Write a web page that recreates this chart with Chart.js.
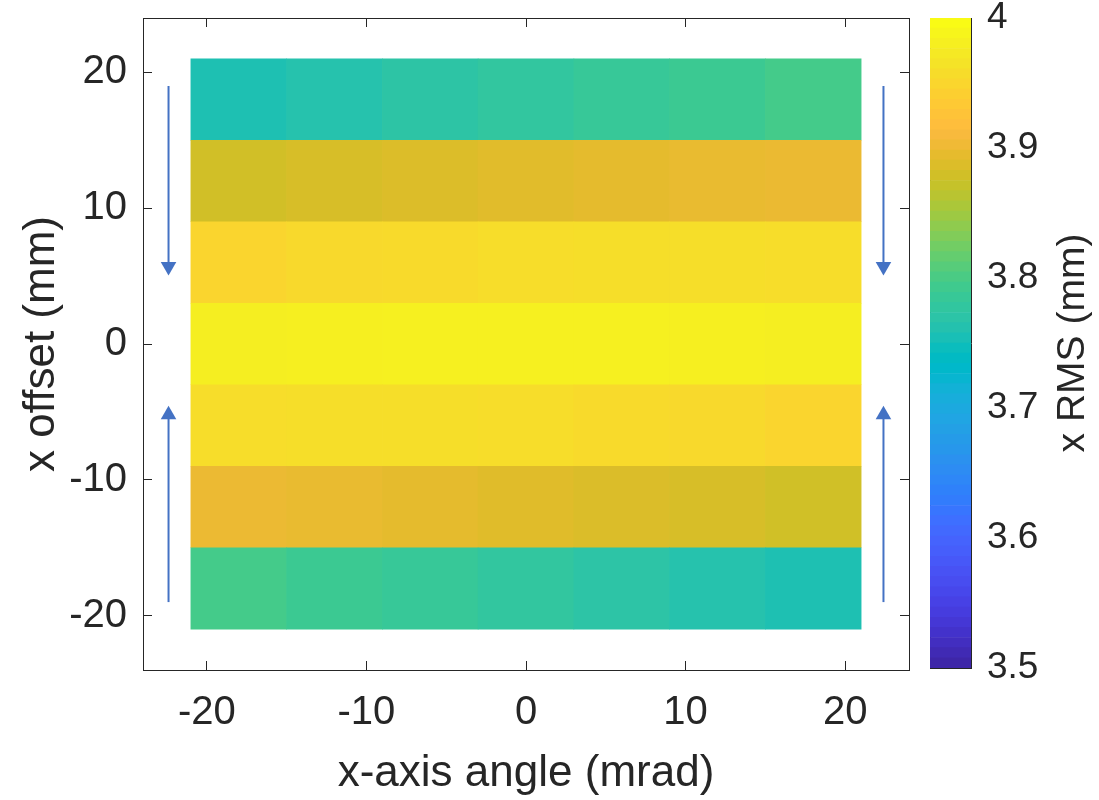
<!DOCTYPE html>
<html>
<head>
<meta charset="utf-8">
<script src="https://cdn.jsdelivr.net/npm/chart.js@4.4.1/dist/chart.umd.min.js"></script>
<style>
  body { margin: 0; background: #fff; }
  #wrap { position: relative; width: 1099px; height: 800px; }
  #heat { position: absolute; left: 0; top: 0; }
  #cbar { position: absolute; left: 925px; top: 0; }
</style>
</head>
<body>
<div id="wrap">
  <canvas id="heat" width="925" height="800"></canvas>
  <canvas id="cbar" width="174" height="800"></canvas>
</div>
<script>
// cell centres
const xAngles = [-18, -12, -6, 0, 6, 12, 18];      // mrad
const yOffsets = [18, 12, 6, 0, -6, -12, -18];     // mm

// x RMS (mm), one list per offset row, left to right
const rmsAt18 = [3.758, 3.764, 3.772, 3.778, 3.785, 3.790, 3.797];
const rmsAt12 = [3.881, 3.885, 3.889, 3.893, 3.896, 3.899, 3.901];
const rmsAt6 = [3.951, 3.956, 3.958, 3.961, 3.963, 3.962, 3.961];
const rmsAt0 = [3.983, 3.984, 3.985, 3.985, 3.985, 3.984, 3.983];
const rmsAtM6 = [3.961, 3.962, 3.963, 3.961, 3.958, 3.956, 3.951];
const rmsAtM12 = [3.902, 3.899, 3.896, 3.892, 3.888, 3.885, 3.880];
const rmsAtM18 = [3.797, 3.790, 3.785, 3.778, 3.771, 3.764, 3.758];
const rmsRows = [rmsAt18, rmsAt12, rmsAt6, rmsAt0, rmsAtM6, rmsAtM12, rmsAtM18];

const colorLimits = [3.5, 4];
const cbTicks = [3.5, 3.6, 3.7, 3.8, 3.9, 4];

// scan direction arrows
const arrowX = [-22.4, 22.4];
const downArrowY = [19, 5.7];
const upArrowY = [-19, -5.2];

const FONT = '"Liberation Sans", Arial, Helvetica, sans-serif';
const INK = '#262626';
const ARROW = '#4472C4';

// matlab parula(64)
const parula = [
  [0.2422,0.1504,0.6603],[0.2504,0.1650,0.7076],[0.2578,0.1818,0.7511],[0.2647,0.1978,0.7952],
  [0.2706,0.2147,0.8364],[0.2751,0.2342,0.8710],[0.2783,0.2559,0.8991],[0.2803,0.2782,0.9221],
  [0.2813,0.3006,0.9414],[0.2810,0.3228,0.9579],[0.2795,0.3447,0.9717],[0.2760,0.3667,0.9829],
  [0.2699,0.3892,0.9906],[0.2602,0.4123,0.9952],[0.2440,0.4358,0.9988],[0.2206,0.4603,0.9973],
  [0.1963,0.4847,0.9892],[0.1834,0.5074,0.9798],[0.1786,0.5289,0.9682],[0.1764,0.5499,0.9520],
  [0.1687,0.5703,0.9359],[0.1540,0.5902,0.9218],[0.1460,0.6091,0.9079],[0.1380,0.6276,0.8973],
  [0.1248,0.6459,0.8883],[0.1113,0.6635,0.8763],[0.0952,0.6798,0.8598],[0.0689,0.6948,0.8394],
  [0.0297,0.7082,0.8163],[0.0036,0.7203,0.7917],[0.0067,0.7312,0.7660],[0.0433,0.7411,0.7394],
  [0.0964,0.7500,0.7120],[0.1408,0.7584,0.6842],[0.1717,0.7670,0.6554],[0.1938,0.7758,0.6251],
  [0.2161,0.7843,0.5923],[0.2470,0.7918,0.5567],[0.2906,0.7973,0.5188],[0.3406,0.8008,0.4789],
  [0.3909,0.8029,0.4354],[0.4456,0.8024,0.3909],[0.5044,0.7993,0.3480],[0.5616,0.7942,0.3045],
  [0.6174,0.7876,0.2612],[0.6720,0.7793,0.2227],[0.7242,0.7698,0.1910],[0.7738,0.7598,0.1646],
  [0.8203,0.7498,0.1535],[0.8634,0.7406,0.1596],[0.9035,0.7330,0.1774],[0.9393,0.7288,0.2100],
  [0.9728,0.7298,0.2394],[0.9956,0.7434,0.2371],[0.9970,0.7659,0.2199],[0.9952,0.7893,0.2028],
  [0.9892,0.8136,0.1885],[0.9786,0.8386,0.1766],[0.9676,0.8639,0.1643],[0.9610,0.8890,0.1537],
  [0.9597,0.9135,0.1423],[0.9628,0.9373,0.1265],[0.9691,0.9606,0.1064],[0.9769,0.9839,0.0805]
];

function rgb(c) {
  return 'rgb(' + c.map(v => Math.round(v * 255)).join(',') + ')';
}

function colorFor(v) {
  let t = (v - colorLimits[0]) / (colorLimits[1] - colorLimits[0]);
  t = Math.max(0, Math.min(1, t)) * (parula.length - 1);
  const i = Math.min(Math.floor(t), parula.length - 2);
  const f = t - i;
  const a = parula[i], b = parula[i + 1];
  return rgb([0, 1, 2].map(k => a[k] + (b[k] - a[k]) * f));
}

// heatmap cells as horizontal floating bars
const half = (xAngles[1] - xAngles[0]) / 2;
const cells = [];
const cellColors = [];
rmsRows.forEach((row, r) => {
  row.forEach((v, c) => {
    cells.push({ x: [xAngles[c] - half, xAngles[c] + half], y: yOffsets[r] });
    cellColors.push(colorFor(v));
  });
});

function arrow(x, ys, tipRot) {
  return {
    type: 'line',
    data: ys.map(y => ({ x: x, y: y })),
    borderColor: ARROW,
    borderWidth: 2,
    pointStyle: 'triangle',
    pointRadius: [0, 9],
    pointRotation: [0, tipRot],
    pointBackgroundColor: ARROW,
    pointBorderWidth: 0,
    order: 0
  };
}

// fixed box sizes, no extra room for overhanging labels
function fixSize(s, size) {
  if (s.isHorizontal()) s.height = size; else s.width = size;
  s.paddingTop = 0; s.paddingBottom = 0; s.paddingLeft = 0; s.paddingRight = 0;
}

const tickFont = { family: FONT, size: 40 };
const titleFont = { family: FONT, size: 44, lineHeight: 1 };

function boxAxis(position, axis, size) {
  return {
    type: 'linear', axis: axis, position: position, min: -24, max: 24, offset: false,
    ticks: { display: false, stepSize: 10, includeBounds: false },
    grid: { drawOnChartArea: false, offset: false, tickLength: -9, color: INK },
    border: { color: INK },
    afterFit(s) { fixSize(s, size); }
  };
}

new Chart(document.getElementById('heat'), {
  type: 'bar',
  data: {
    datasets: [
      arrow(arrowX[0], downArrowY, 180),
      arrow(arrowX[1], downArrowY, 180),
      arrow(arrowX[0], upArrowY, 0),
      arrow(arrowX[1], upArrowY, 0),
      {
        type: 'bar',
        indexAxis: 'y',
        data: cells,
        backgroundColor: cellColors,
        borderWidth: 0,
        barPercentage: 1,
        categoryPercentage: 1,
        order: 1
      }
    ]
  },
  options: {
    responsive: false,
    devicePixelRatio: 1,
    animation: false,
    events: [],
    layout: { padding: 0 },
    plugins: { legend: { display: false }, tooltip: { enabled: false } },
    scales: {
      x: {
        type: 'linear', position: 'bottom', min: -24, max: 24, offset: false,
        ticks: { stepSize: 10, includeBounds: false, font: tickFont, color: INK, padding: 28, maxRotation: 0 },
        grid: { drawOnChartArea: false, offset: false, tickLength: -9, color: INK },
        border: { color: INK },
        title: { display: true, text: 'x-axis angle (mrad)', font: titleFont, color: INK, padding: { top: 0, bottom: 4 } },
        afterFit(s) { fixSize(s, 130); }
      },
      y: {
        type: 'linear', position: 'left', min: -24, max: 24, offset: false,
        ticks: { stepSize: 10, includeBounds: false, font: tickFont, color: INK, padding: 25 },
        grid: { drawOnChartArea: false, offset: false, tickLength: -9, color: INK },
        border: { color: INK },
        title: { display: true, text: 'x offset (mm)', font: titleFont, color: INK, padding: { top: 20, bottom: 0 } },
        afterFit(s) { fixSize(s, 143); }
      },
      xTop: boxAxis('top', 'x', 18),
      yRight: boxAxis('right', 'y', 16)
    }
  }
});

// colorbar: one floating bar per colormap entry
const step = (colorLimits[1] - colorLimits[0]) / parula.length;
const cbSets = parula.map((c, i) => ({
  data: [[colorLimits[0] + i * step, colorLimits[0] + (i + 1) * step]],
  backgroundColor: rgb(c),
  borderWidth: 0,
  grouped: false,
  barPercentage: 1,
  categoryPercentage: 1
}));

const cbLabel = {
  id: 'cbLabel',
  afterDraw(chart) {
    const { ctx, chartArea } = chart;
    ctx.save();
    ctx.translate(148, (chartArea.top + chartArea.bottom) / 2);
    ctx.rotate(-Math.PI / 2);
    ctx.font = '39px ' + FONT;
    ctx.fillStyle = INK;
    ctx.textAlign = 'center';
    ctx.textBaseline = 'middle';
    ctx.fillText('x RMS (mm)', 0, 0);
    ctx.restore();
  }
};

new Chart(document.getElementById('cbar'), {
  type: 'bar',
  data: { labels: [''], datasets: cbSets },
  options: {
    responsive: false,
    devicePixelRatio: 1,
    animation: false,
    events: [],
    layout: { padding: 0 },
    plugins: { legend: { display: false }, tooltip: { enabled: false } },
    scales: {
      x: {
        type: 'category', position: 'bottom',
        ticks: { display: false }, grid: { display: false },
        border: { color: INK },
        afterFit(s) { fixSize(s, 132); }
      },
      xTop: {
        type: 'category', position: 'top',
        ticks: { display: false }, grid: { display: false },
        border: { color: INK },
        afterFit(s) { fixSize(s, 18); }
      },
      yL: {
        type: 'linear', position: 'left', min: colorLimits[0], max: colorLimits[1],
        ticks: { display: false }, grid: { display: false },
        border: { color: INK },
        afterFit(s) { fixSize(s, 5); }
      },
      y: {
        type: 'linear', position: 'right', min: colorLimits[0], max: colorLimits[1],
        afterBuildTicks(s) { s.ticks = cbTicks.map(v => ({ value: v })); },
        ticks: {
          font: { family: FONT, size: 37 }, color: INK, padding: 24,
          callback: v => String(Math.round(v * 10) / 10)
        },
        grid: { drawOnChartArea: false, tickLength: -8, color: INK },
        border: { color: INK },
        afterFit(s) { fixSize(s, 128); }
      }
    }
  },
  plugins: [cbLabel]
});
</script>
</body>
</html>
